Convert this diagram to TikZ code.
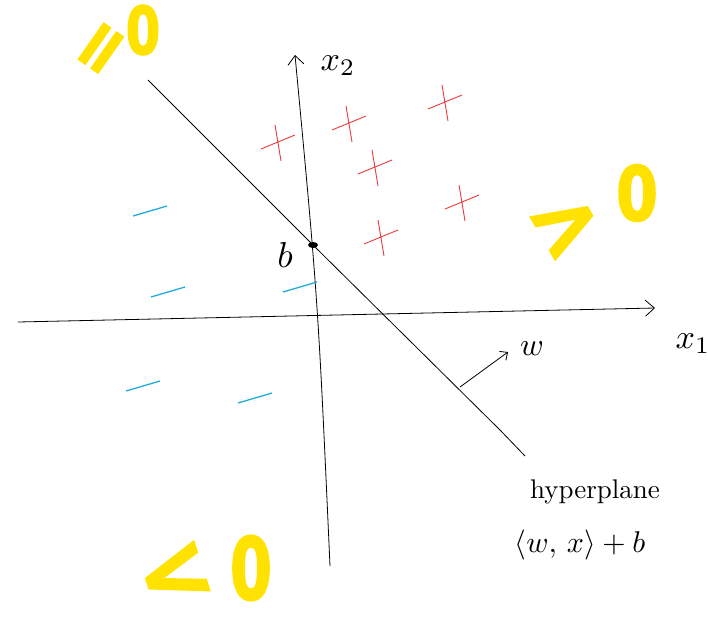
\documentclass[tikz,border=0pt]{standalone}
\usepackage{fontspec}
\newfontfamily\markfont[FakeBold=2.5]{DejaVu Sans Bold}
\usetikzlibrary{arrows.meta}
\definecolor{markyellow}{RGB}{255,226,0}
\definecolor{plusred}{RGB}{236,58,58}
\definecolor{minuscyan}{RGB}{32,172,222}
\tikzset{
  plusmark/.style={plusred,line width=0.9pt},
  minusmark/.style={minuscyan,line width=1.3pt},
  bigmark/.style={markyellow,font=\markfont\fontsize{#1}{#1}\selectfont,inner sep=0pt},
  sketch/.style={line width=0.8pt},
  chevron/.style={-{Straight Barb[length=9pt,width=16pt,line width=0.8pt]}},
  handtext/.style={scale=#1,inner sep=0pt},
}
\begin{document}
\begin{tikzpicture}[x=1pt,y=-1pt]
\useasboundingbox (0,0) rectangle (708,626);
\coordinate (X1s) at (18,322);
\coordinate (X1e) at (655,308);
\coordinate (X2s) at (330,566);
\coordinate (X2e) at (295,55);
\coordinate (H1) at (148,80);
\coordinate (B) at (313,245);
\coordinate (Hm) at (500,430);
\coordinate (H2) at (525,456);
\draw[sketch,chevron] (X1s)--(X1e);
\draw[sketch,chevron] (X2s) .. controls (318,300) .. (X2e);
\draw[sketch] (H1)--(B)--(Hm) .. controls (513,443) .. (H2);
\fill[black] (B) ellipse (5pt and 3pt);
\node[handtext=3.6] (bl) at (285,255) {$b$};
\node[handtext=3.4] (x2l) at (338,66) {$x_2$};
\node[handtext=3.4] (x1l) at (693,344) {$x_1$};
\coordinate (W0) at (460,387);
\coordinate (W1) at (508,352);
\draw[sketch,-{Straight Barb[length=6pt,width=11pt,line width=0.8pt]}] (W0)--(W1);
\node[handtext=3.2] (wl) at (532,349) {$w$};
\node[handtext=2.7] (hyp) at (595,492) {hyperplane};
\node[handtext=3] (eq) at (580,545) {$\langle w,\, x\rangle + b$};
\coordinate (P1) at (278,142);
\coordinate (P2) at (349,123);
\coordinate (P3) at (445,102);
\coordinate (P4) at (375,167);
\coordinate (P5) at (462,202);
\coordinate (P6) at (381,237);
\foreach \P in {P1,P2,P3,P4,P5,P6}
  \draw[plusmark,shift={(\P)}] (-17,7)--(17,-7) (-3,-17)--(3,19);
\coordinate (M1) at (150,211);
\coordinate (M2) at (168,292);
\coordinate (M3) at (300,287);
\coordinate (M4) at (143,386);
\coordinate (M5) at (255,398);
\foreach \M in {M1,M2,M3,M4,M5}
  \draw[minusmark,shift={(\M)}] (-17,5)--(17,-5);
\node[bigmark=70,rotate=55] (eqsign) at (105,51) {=};
\node[bigmark=66,xscale=0.75] (zeroA) at (143,30) {0};
\node[bigmark=86,rotate=30] (gtsign) at (567,226) {>};
\node[bigmark=75,xscale=0.8] (zeroB) at (637,193) {0};
\node[bigmark=90,rotate=18] (ltsign) at (175,576) {<};
\node[bigmark=86,xscale=0.7] (zeroC) at (251,568) {0};
\end{tikzpicture}
\end{document}
